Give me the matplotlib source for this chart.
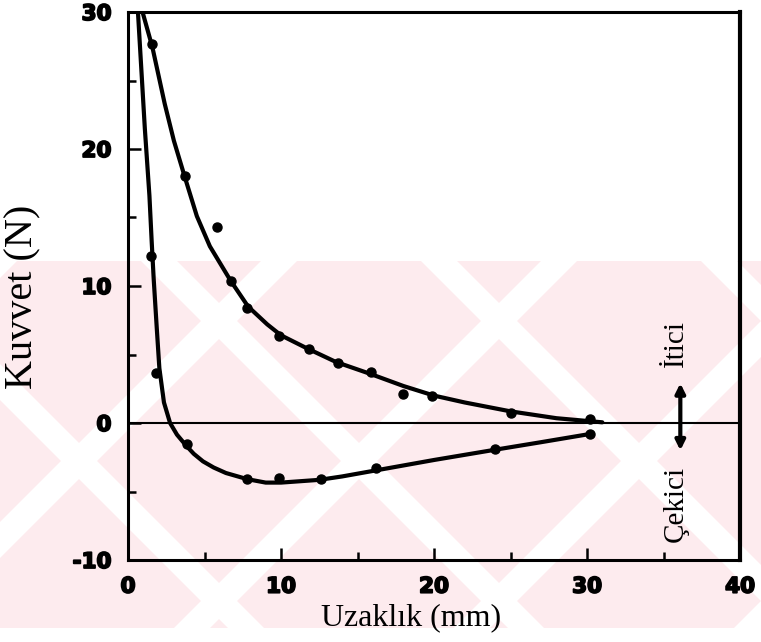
import numpy as np
import matplotlib
matplotlib.use('Agg')
import matplotlib.pyplot as plt
import matplotlib.patheffects as pe
from matplotlib.patches import Rectangle, Polygon

# repulsive (itici) - fitted curve and measured points
up_x = [0.95, 1.6, 2.4, 3.0, 3.7, 4.5, 5.35, 6.7, 7.85, 9.1, 10, 11.7, 13.6, 15.8, 18, 20, 22, 25, 28, 30, 31]
up_y = [30, 27.4, 23.3, 20.6, 18.0, 15.1, 12.9, 10.4, 8.5, 7.2, 6.4, 5.45, 4.45, 3.6, 2.7, 2.0, 1.5, 0.85, 0.35, 0.15, 0.05]
up_px = [1.6, 3.7, 5.8, 6.7, 7.8, 9.9, 11.8, 13.7, 15.9, 18.0, 19.9, 25.0, 30.2]
up_py = [27.7, 18.0, 14.3, 10.4, 8.4, 6.35, 5.4, 4.4, 3.7, 2.1, 1.97, 0.75, 0.3]

# attractive (cekici) - fitted curve and measured points
lo_x = [0.65, 1.1, 1.4, 1.55, 1.68, 1.87, 2.05, 2.35, 2.75, 3.2, 3.8, 4.3, 4.9, 5.6, 6.4, 7.8, 9.0,
        10, 12.5, 14, 16, 18, 20, 24, 27, 30.2]
lo_y = [30, 21.5, 16.6, 13.2, 10.5, 7.1, 4.0, 1.5, 0, -0.85, -1.65, -2.25, -2.8, -3.25, -3.65, -4.1, -4.35,
        -4.35, -4.15, -3.9, -3.5, -3.1, -2.7, -1.95, -1.4, -0.8]
lo_px = [1.5, 1.8, 3.85, 7.8, 9.9, 12.6, 16.2, 24.0, 30.2]
lo_py = [12.2, 3.65, -1.55, -4.1, -4.05, -4.1, -3.3, -1.9, -0.8]

xticks = [0, 10, 20, 30, 40]
yticks = [30, 20, 10, 0, -10]

W, H = 761, 642
fig = plt.figure(figsize=(W / 100, H / 100), dpi=100)

# pink watermark band with white diagonal stripes (pixel coords)
pink = '#fdebee'
band = Rectangle((0, H - 628), W, 628 - 261, facecolor=pink, edgecolor='none',
                 transform=None, zorder=-2)
fig.patches.append(band)
sw = 36
for c in range(-400, 1400, 280):
    for sgn in (1, -1):
        if sgn == 1:
            pts = [(c, 0), (c + sw, 0), (c + sw + H, H), (c + H, H)]
        else:
            pts = [(c, H), (c + sw, H), (c + sw + H, 0), (c + H, 0)]
        p = Polygon(pts, facecolor='white', edgecolor='none', transform=None, zorder=-1)
        p.set_clip_path(band)
        fig.patches.append(p)

ax = fig.add_axes([128 / W, 1 - 560 / H, (740 - 128) / W, (560 - 12) / H])
ax.patch.set_alpha(0)

ax.plot(up_x, up_y, color='black', lw=3.0, solid_capstyle='round', solid_joinstyle='round', zorder=3)
ax.plot(lo_x, lo_y, color='black', lw=3.0, solid_capstyle='round', solid_joinstyle='round', zorder=3)
ax.plot(up_px, up_py, 'o', color='black', ms=6.5, zorder=4)
ax.plot(lo_px, lo_py, 'o', color='black', ms=6.5, zorder=4)
ax.axhline(0, color='black', lw=1.5, zorder=2)

ax.set_xlim(0, 40)
ax.set_ylim(-10, 30)
ax.set_xticks(xticks)
ax.set_xticks(range(5, 40, 10), minor=True)
ax.set_yticks(yticks)
ax.set_yticks(range(-5, 30, 10), minor=True)
ax.set_xticklabels([str(v) for v in xticks])
ax.set_yticklabels([str(v) for v in yticks])
ax.tick_params(which='both', direction='in', width=1.8, top=False, right=False)
ax.tick_params(which='major', length=9, pad=12, labelsize=15.5)
ax.tick_params(which='minor', length=6)
for lab in ax.get_xticklabels() + ax.get_yticklabels():
    lab.set_fontweight('heavy')
    lab.set_path_effects([pe.withStroke(linewidth=1.3, foreground='black')])
for s in ['left', 'bottom', 'top']:
    ax.spines[s].set_linewidth(2.2)
ax.spines['right'].set_linewidth(3.0)

ax.set_xlabel('Uzaklık (mm)', family='Liberation Serif', fontsize=23, va='center')
ax.xaxis.set_label_coords(0.462, -0.106)
ax.set_ylabel('Kuvvet (N)', family='Liberation Serif', fontsize=29, va='center')
ax.yaxis.set_label_coords(-0.172, 0.48)

ax.text(35.8, 5.8, 'İtici', rotation=90, ha='center', va='center',
        family='Liberation Serif', fontsize=21)
ax.text(35.8, -5.9, 'Çekici', rotation=90, ha='center', va='center',
        family='Liberation Serif', fontsize=21)
ax.annotate('', xy=(36.1, -2.0), xytext=(36.1, 2.9),
            arrowprops=dict(arrowstyle='<|-|>', color='black', lw=3.0,
                            mutation_scale=14, shrinkA=0, shrinkB=0))

fig.savefig('out.png', dpi=100)
